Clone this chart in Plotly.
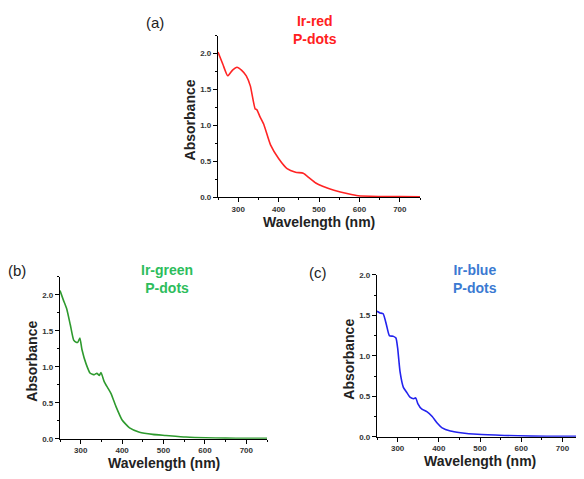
import plotly.graph_objects as go

# ---- data ----
wl_red = [250, 262, 274, 286, 297, 308, 320, 330, 342, 346, 354, 363, 380, 400, 421, 442, 461, 476, 492, 509, 537, 572, 597, 647, 700, 750]
abs_red = [2.02, 1.85, 1.69, 1.77, 1.81, 1.77, 1.69, 1.55, 1.23, 1.22, 1.12, 1.02, 0.73, 0.54, 0.40, 0.35, 0.335, 0.27, 0.20, 0.155, 0.10, 0.05, 0.023, 0.013, 0.01, 0.008]

wl_green = [250, 258, 266, 275, 283, 289, 293, 298, 303, 313, 323, 333, 339, 345, 349, 357, 365, 373, 385, 400, 418, 442, 474, 506, 554, 602, 650, 700, 750]
abs_green = [2.06, 1.93, 1.81, 1.58, 1.37, 1.34, 1.34, 1.40, 1.24, 1.04, 0.91, 0.89, 0.91, 0.88, 0.92, 0.79, 0.71, 0.63, 0.45, 0.26, 0.15, 0.09, 0.06, 0.045, 0.023, 0.012, 0.008, 0.006, 0.005]

wl_blue = [250, 257, 265, 273, 280, 290, 296, 300, 306, 314, 322, 330, 339, 344, 349, 359, 371, 384, 396, 408, 428, 453, 494, 559, 625, 700, 750]
abs_blue = [1.55, 1.53, 1.52, 1.38, 1.25, 1.24, 1.22, 1.10, 0.80, 0.61, 0.55, 0.49, 0.47, 0.48, 0.41, 0.34, 0.31, 0.25, 0.17, 0.11, 0.07, 0.05, 0.03, 0.016, 0.008, 0.005, 0.005]

x_ticks = [300, 400, 500, 600, 700]
y_ticks = [0.0, 0.5, 1.0, 1.5, 2.0]
y_tick_text = ["0.0", "0.5", "1.0", "1.5", "2.0"]

panel_labels = ["(a)", "(b)", "(c)"]
sample_names = ["Ir-red<br>P-dots", "Ir-green<br>P-dots", "Ir-blue<br>P-dots"]
line_colors = ["#ff2424", "#2e9a2e", "#2323ee"]
text_colors = ["#ff2020", "#2dbd5c", "#3b7ad2"]

# page body has an 8px margin; figure fills the rest of the 584x479 window
OFF = 8
W, H = 584 - OFF, 479 - OFF
FONT = "Liberation Sans, Arial, sans-serif"


def px(x):
    return (x - OFF) / W


def py(y):
    return (H - (y - OFF)) / H


# target pixel geometry of each panel: (left, right, bottom, top), y max
panels = [
    (218, 420, 197, 32, 2.25),
    (60, 267, 443, 278, 2.25),
    (377, 583, 441, 276, 2.0),
]

fig = go.Figure()
series = [(wl_red, abs_red), (wl_green, abs_green), (wl_blue, abs_blue)]

annotations = []
for i, ((wl, ab), (l, r, b, t, ymax)) in enumerate(zip(series, panels)):
    xa = "x" if i == 0 else f"x{i+1}"
    ya = "y" if i == 0 else f"y{i+1}"
    fig.add_trace(go.Scatter(x=wl, y=ab, mode="lines", xaxis=xa, yaxis=ya,
                             line=dict(color=line_colors[i], width=1.6, shape="spline", smoothing=0.5),
                             showlegend=False, hoverinfo="skip"))
    axis_common = dict(showline=True, linecolor="black", linewidth=1.2, ticks="outside",
                       ticklen=4, tickwidth=1, tickcolor="black", showgrid=False, zeroline=False,
                       tickfont=dict(family=FONT, size=8, color="#333333", weight="bold"),
                       minor=dict(ticks="outside", ticklen=2, tickwidth=1, tickcolor="black"))
    xkey = "xaxis" if i == 0 else f"xaxis{i+1}"
    ykey = "yaxis" if i == 0 else f"yaxis{i+1}"
    fig.update_layout(**{
        xkey: dict(domain=[px(l), min(px(r), 1.0)], range=[250, 750], anchor=ya,
                   tickvals=x_ticks, minor_dtick=50, **axis_common),
        ykey: dict(domain=[py(b), py(t)], range=[0, ymax], anchor=xa,
                   tickvals=y_ticks, ticktext=y_tick_text, minor_dtick=0.25, **axis_common),
    })
    cx = (l + r) / 2
    annotations.append(dict(x=px(cx), y=py(b + 25), xref="paper", yref="paper",
                            text="<b>Wavelength (nm)</b>", showarrow=False,
                            font=dict(family=FONT, size=14, color="#222222"),
                            xanchor="center", yanchor="middle"))
    annotations.append(dict(x=px(l - 28), y=py((b + t) / 2 + 4), xref="paper", yref="paper",
                            text="<b>Absorbance</b>", showarrow=False, textangle=-90,
                            font=dict(family=FONT, size=14, color="#222222"),
                            xanchor="center", yanchor="middle"))

label_pos = [(155, 19), (17, 272), (318, 274)]
name_pos = [(315, 26), (167, 280), (475, 280)]
for i in range(3):
    lx, ly = label_pos[i]
    annotations.append(dict(x=px(lx), y=py(ly), xref="paper", yref="paper",
                            text=panel_labels[i], showarrow=False,
                            font=dict(family=FONT, size=15, color="#222222"),
                            xanchor="center", yanchor="middle"))
    nx, ny = name_pos[i]
    annotations.append(dict(x=px(nx), y=py(ny), xref="paper", yref="paper",
                            text="<b>" + sample_names[i] + "</b>", showarrow=False,
                            font=dict(family=FONT, size=14, color=text_colors[i]),
                            xanchor="center", yanchor="middle", align="center"))

fig.update_layout(width=W, height=H, margin=dict(l=0, r=0, t=0, b=0),
                  paper_bgcolor="white", plot_bgcolor="white",
                  annotations=annotations)

fig.write_html("out.html")
